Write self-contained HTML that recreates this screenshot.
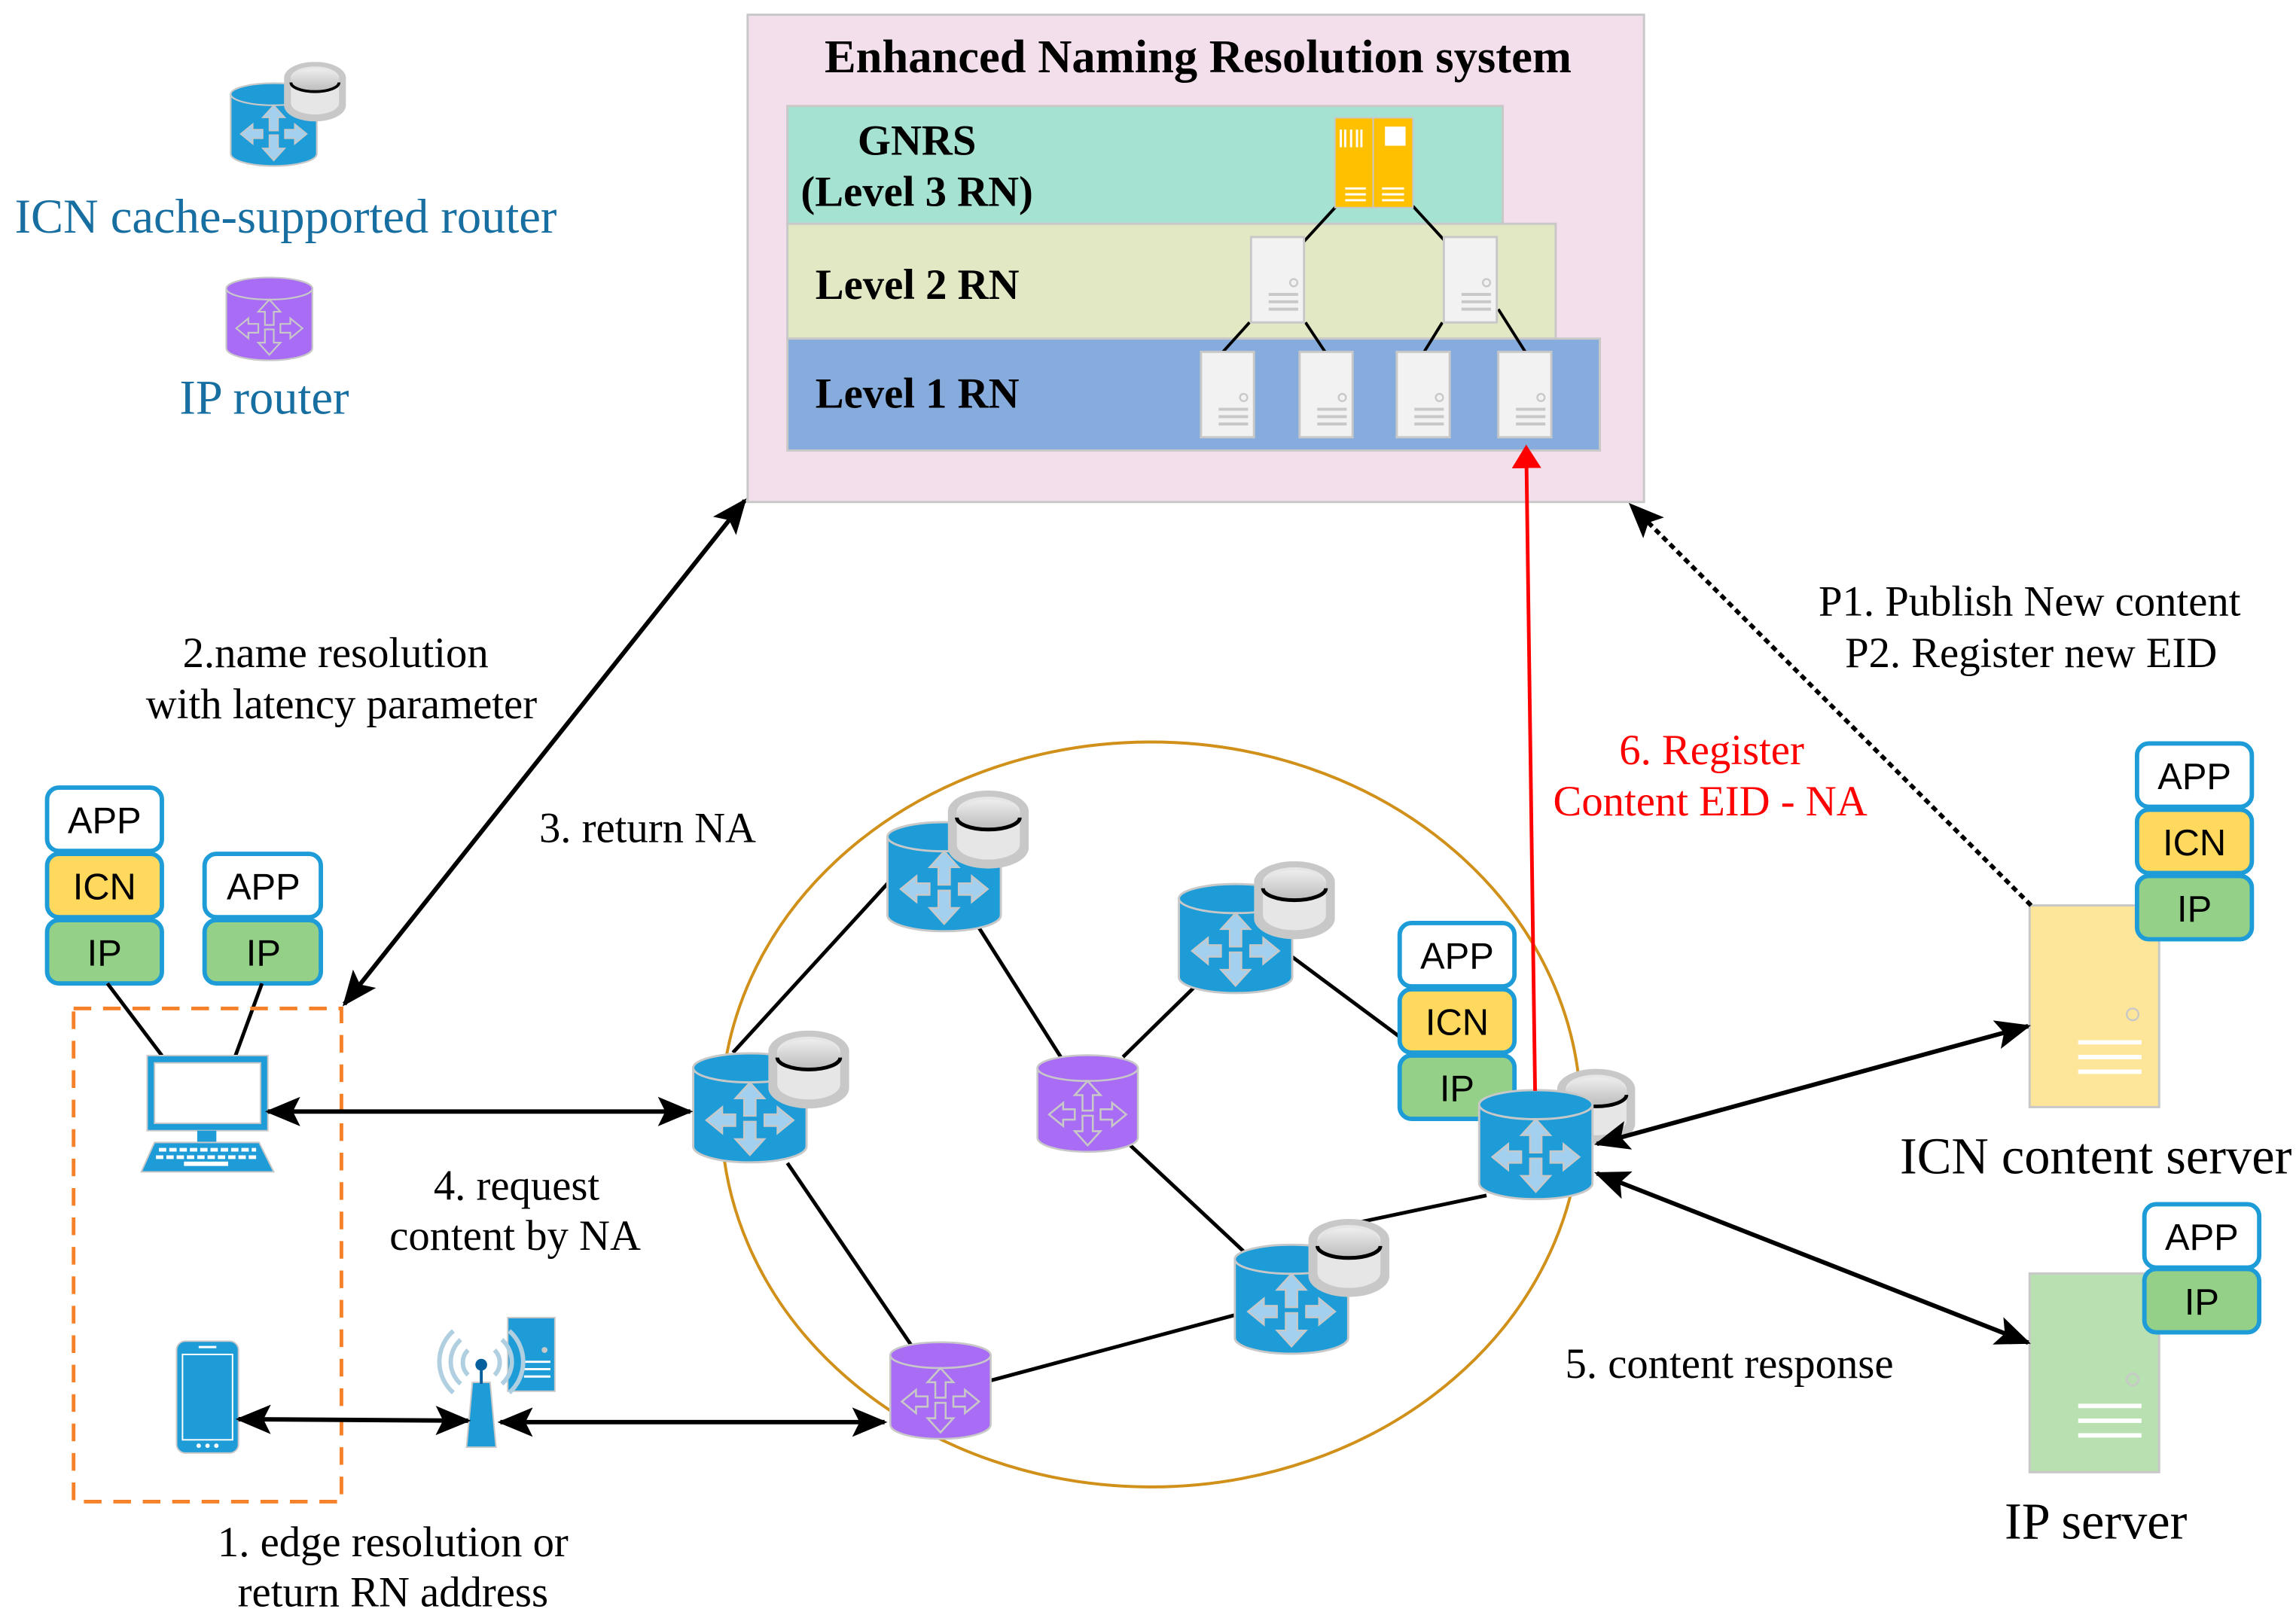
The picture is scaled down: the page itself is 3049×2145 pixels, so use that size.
<!DOCTYPE html>
<html><head><meta charset="utf-8"><style>
html,body{margin:0;padding:0;background:#fff;}
svg{display:block;}
.s{font-family:"Liberation Serif",serif;}
.a{font-family:"Liberation Sans",sans-serif;font-size:25px;}
</style></head><body>
<svg width="3049" height="2145" viewBox="0 0 1560 1097" preserveAspectRatio="none" xmlns="http://www.w3.org/2000/svg">
<defs>
<marker id="ah" viewBox="0 0 24 20" refX="22" refY="10" markerWidth="24" markerHeight="20" markerUnits="userSpaceOnUse" orient="auto-start-reverse">
<path d="M0,0 L24,10 L0,20 L5,10 Z" fill="#000"/></marker>
<marker id="ahr" viewBox="0 0 16 20" refX="14" refY="10" markerWidth="16" markerHeight="20" markerUnits="userSpaceOnUse" orient="auto">
<path d="M0,0 L16,10 L0,20 Z" fill="#f00"/></marker>
<g id="arrows">
<path d="M40,22 l-10,11 h6 v12 h8 v-12 h6 z M40,72 l-10,-11 h6 v-12 h8 v12 h6 z M10,48 l11,-9 v5 h9 v8 h-9 v5 z M70,48 l-11,-9 v5 h-9 v8 h9 v5 z" fill="#a3d0ee" stroke="#c8c8c8" stroke-width="1.2"/>
</g>
<symbol id="rb" viewBox="0 0 80 80">
<path d="M1,12 V66 A39,11 0 0 0 79,66 V12 Z" fill="#1e9cd7" stroke="#c8c8c8" stroke-width="1.5"/>
<ellipse cx="40" cy="12" rx="39" ry="10" fill="#1e9cd7" stroke="#c8c8c8" stroke-width="1.5"/>
<use href="#arrows"/>
</symbol>
<symbol id="rp" viewBox="0 0 80 80">
<path d="M1,12 V66 A39,11 0 0 0 79,66 V12 Z" fill="#a86cf5" stroke="#c8c8c8" stroke-width="1.5"/>
<ellipse cx="40" cy="12" rx="39" ry="10" fill="#a86cf5" stroke="#c8c8c8" stroke-width="1.5"/>
<path d="M40,22 l-10,11 h6 v12 h8 v-12 h6 z M40,72 l-10,-11 h6 v-12 h8 v12 h6 z M10,48 l11,-9 v5 h9 v8 h-9 v5 z M70,48 l-11,-9 v5 h-9 v8 h9 v5 z" fill="none" stroke="#c8c8c8" stroke-width="1.5"/>
</symbol>
<linearGradient id="dg" x1="0" y1="0" x2="0" y2="1"><stop offset="0" stop-color="#eee"/><stop offset="1" stop-color="#bbb"/></linearGradient>
<symbol id="disk" viewBox="0 0 54 54">
<path d="M0,14 A27,14 0 0 1 54,14 V38 A27,14 0 0 1 0,38 Z" fill="#c8c8c8"/>
<path d="M6,14 A21,10 0 0 1 48,14 V36 A21,10 0 0 1 6,36 Z" fill="#e6e6e6"/>
<ellipse cx="27" cy="16" rx="21" ry="10" fill="url(#dg)"/>
<path d="M6,18 A21,8 0 0 0 48,18" fill="none" stroke="#000" stroke-width="2.5"/>
</symbol>
<symbol id="srv" viewBox="0 0 38 60">
<rect x="1" y="1" width="36" height="58" fill="#f2f2f2" stroke="#c8c8c8" stroke-width="1.5"/>
<circle cx="30" cy="32" r="2.5" fill="none" stroke="#c8c8c8" stroke-width="1.2"/>
<path d="M13,40 h20 M13,45 h20 M13,50 h20" stroke="#c8c8c8" stroke-width="2"/>
</symbol>
</defs>

<rect x="508" y="10" width="609" height="331" fill="#f2dfeb" stroke="#c8c8c8" stroke-width="1.5"/>
<text x="814" y="49" text-anchor="middle" class="s" font-size="32" font-weight="bold">Enhanced Naming Resolution system</text>
<rect x="535" y="72" width="486" height="80" fill="#a6e2d2" stroke="#c8c8c8" stroke-width="1.5"/>
<rect x="535" y="152" width="522" height="78" fill="#e2e8c4" stroke="#c8c8c8" stroke-width="1.5"/>
<rect x="535" y="230" width="552" height="76" fill="#85acdd" stroke="#c8c8c8" stroke-width="1.5"/>
<text x="623" y="105" text-anchor="middle" class="s" font-size="29" font-weight="bold">GNRS</text>
<text x="623" y="140" text-anchor="middle" class="s" font-size="29" font-weight="bold">(Level 3 RN)</text>
<text x="554" y="203" class="s" font-size="29" font-weight="bold">Level 2 RN</text>
<text x="554" y="277" class="s" font-size="29" font-weight="bold">Level 1 RN</text>
<g stroke="#000" stroke-width="2">
<line x1="908" y1="140" x2="886" y2="164"/><line x1="960" y1="140" x2="982" y2="164"/>
<line x1="849" y1="219" x2="830" y2="240"/><line x1="887" y1="219" x2="901" y2="240"/>
<line x1="980" y1="219" x2="967" y2="240"/><line x1="1018" y1="210" x2="1037" y2="240"/>
</g>
<g>
<rect x="907" y="80" width="26" height="61" fill="#ffc000" stroke="#c8c8c8" stroke-width="1"/>
<rect x="933" y="80" width="27" height="61" fill="#ffc000" stroke="#c8c8c8" stroke-width="1"/>
<path d="M911,88 v12 M914,88 v12 M918,88 v12 M922,88 v12 M925,88 v12" stroke="#fff" stroke-width="1.5"/>
<rect x="941" y="86" width="14" height="13" fill="#fff"/>
<path d="M914,128 h14 M914,132 h14 M914,136 h14 M939,128 h15 M939,132 h15 M939,136 h15" stroke="#fff" stroke-width="1.5"/>
</g>
<use href="#srv" x="849" y="160" width="38" height="60"/>
<use href="#srv" x="980" y="160" width="38" height="60"/>
<use href="#srv" x="815" y="238" width="38" height="60"/>
<use href="#srv" x="882" y="238" width="38" height="60"/>
<use href="#srv" x="948" y="238" width="38" height="60"/>
<use href="#srv" x="1017" y="238" width="38" height="60"/>

<use href="#rb" x="152" y="55" width="68" height="60"/>
<use href="#disk" x="192" y="42" width="44" height="42"/>
<text x="10" y="158" class="s" font-size="33" fill="#176ea0">ICN cache-supported router</text>
<use href="#rp" x="152" y="187" width="62" height="60"/>
<text x="122" y="281" class="s" font-size="33" fill="#176ea0">IP router</text>

<ellipse cx="782" cy="757" rx="292" ry="253" fill="none" stroke="#d0901a" stroke-width="2"/>

<g stroke="#000" stroke-width="2.5">
<line x1="498" y1="715" x2="605" y2="598"/>
<line x1="665" y1="630" x2="722" y2="720"/>
<line x1="763" y1="718" x2="812" y2="670"/>
<line x1="878" y1="650" x2="952" y2="705"/>
<line x1="535" y1="790" x2="620" y2="915"/>
<line x1="672" y1="938" x2="840" y2="893"/>
<line x1="768" y1="778" x2="845" y2="850"/>
<line x1="915" y1="832" x2="1010" y2="812"/>
</g>

<use href="#rb" x="470" y="713" width="79" height="80"/>
<use href="#disk" x="522" y="700" width="55" height="55"/>
<use href="#rb" x="602" y="556" width="79" height="80"/>
<use href="#disk" x="644" y="537" width="55" height="55"/>
<use href="#rb" x="800" y="598" width="79" height="80"/>
<use href="#disk" x="852" y="585" width="55" height="55"/>
<use href="#rb" x="838" y="843" width="79" height="80"/>
<use href="#disk" x="889" y="828" width="55" height="55"/>
<use href="#rp" x="704" y="715" width="70" height="70"/>
<use href="#rp" x="604" y="910" width="70" height="70"/>

<g class="a" text-anchor="middle">
<rect x="951" y="627" width="78" height="43" rx="8" fill="#fff" stroke="#1e9cd7" stroke-width="3"/>
<rect x="951" y="672" width="78" height="43" rx="8" fill="#ffd95e" stroke="#1e9cd7" stroke-width="3"/>
<rect x="951" y="717" width="78" height="43" rx="8" fill="#95d088" stroke="#1e9cd7" stroke-width="3"/>
<text x="990" y="658">APP</text><text x="990" y="703">ICN</text><text x="990" y="748">IP</text>
</g>
<use href="#disk" x="1058" y="725" width="53" height="55"/>
<use href="#rb" x="1004" y="738" width="79" height="80"/>

<line x1="1043" y1="741" x2="1037" y2="304" stroke="#f00" stroke-width="2.5" marker-end="url(#ahr)"/>

<g class="a" text-anchor="middle">
<rect x="32" y="535" width="78" height="43" rx="8" fill="#fff" stroke="#1e9cd7" stroke-width="3"/>
<rect x="32" y="580" width="78" height="43" rx="8" fill="#ffd95e" stroke="#1e9cd7" stroke-width="3"/>
<rect x="32" y="625" width="78" height="43" rx="8" fill="#95d088" stroke="#1e9cd7" stroke-width="3"/>
<text x="71" y="566">APP</text><text x="71" y="611">ICN</text><text x="71" y="656">IP</text>
<rect x="139" y="580" width="79" height="43" rx="8" fill="#fff" stroke="#1e9cd7" stroke-width="3"/>
<rect x="139" y="625" width="79" height="43" rx="8" fill="#95d088" stroke="#1e9cd7" stroke-width="3"/>
<text x="179" y="611">APP</text><text x="179" y="656">IP</text>
</g>
<g stroke="#000" stroke-width="2.5"><line x1="73" y1="668" x2="110" y2="717"/><line x1="178" y1="668" x2="160" y2="717"/></g>

<rect x="50" y="685" width="182" height="335" fill="none" stroke="#f5822a" stroke-width="2.5" stroke-dasharray="12,8"/>

<rect x="100" y="717" width="82" height="51" fill="#1e9cd7" stroke="#c8c8c8" stroke-width="1"/>
<rect x="105" y="722" width="72" height="41" fill="#fff" stroke="#c8c8c8" stroke-width="1"/>
<rect x="134" y="768" width="13" height="8" fill="#1e9cd7"/>
<path d="M105,776 H176 L186,796 H96 Z" fill="#1e9cd7" stroke="#c8c8c8" stroke-width="1"/>
<path d="M108,781 h66 M106,786 h70" stroke="#fff" stroke-width="2.5" stroke-dasharray="5,2"/>
<rect x="125" y="789" width="30" height="3" fill="#fff"/>

<rect x="120" y="911" width="42" height="76" rx="6" fill="#1e9cd7" stroke="#c8c8c8" stroke-width="1"/>
<rect x="124" y="920" width="34" height="58" fill="#1e9cd7" stroke="#fff" stroke-width="1"/>
<line x1="135" y1="915" x2="147" y2="915" stroke="#fff" stroke-width="1.5"/>
<circle cx="135" cy="982" r="1.5" fill="#fff"/><circle cx="141" cy="982" r="1.5" fill="#fff"/><circle cx="147" cy="982" r="1.5" fill="#fff"/>

<rect x="345" y="895" width="32" height="50" fill="#1e9cd7" stroke="#c8c8c8" stroke-width="1"/>
<circle cx="370" cy="917" r="2" fill="#c8c8c8"/>
<path d="M356,925 h18 M356,930 h18 M356,935 h18" stroke="#fff" stroke-width="1.5"/>
<path d="M321,939 L333,939 L337,983 L317,983 Z" fill="#1e9cd7" stroke="#c8c8c8" stroke-width="1"/>
<line x1="327" y1="928" x2="327" y2="940" stroke="#06609e" stroke-width="2"/>
<circle cx="327" cy="927" r="4" fill="#06609e"/>
<g fill="none" stroke="#b0cfe0" stroke-width="3">
<path d="M318,917 a12,12 0 0 0 0,17 M336,917 a12,12 0 0 1 0,17"/>
<path d="M313,910 a20,20 0 0 0 0,30 M341,910 a20,20 0 0 1 0,30"/>
<path d="M308,904 a28,28 0 0 0 0,42 M346,904 a28,28 0 0 1 0,42"/>
</g>

<rect x="1379" y="615" width="88" height="137" fill="#fde69a" stroke="#c8c8c8" stroke-width="1.5"/>
<circle cx="1449" cy="689" r="4" fill="none" stroke="#c8c8c8" stroke-width="1.2"/>
<path d="M1412,708 h43 M1412,718 h43 M1412,728 h43" stroke="#fff" stroke-width="3"/>
<rect x="1379" y="865" width="88" height="135" fill="#b8e0b0" stroke="#c8c8c8" stroke-width="1.5"/>
<circle cx="1449" cy="937" r="4" fill="none" stroke="#c8c8c8" stroke-width="1.2"/>
<path d="M1412,955 h43 M1412,965 h43 M1412,975 h43" stroke="#fff" stroke-width="3"/>
<g class="a" text-anchor="middle">
<rect x="1452" y="505" width="78" height="43" rx="8" fill="#fff" stroke="#1e9cd7" stroke-width="3"/>
<rect x="1452" y="550" width="78" height="43" rx="8" fill="#ffd95e" stroke="#1e9cd7" stroke-width="3"/>
<rect x="1452" y="595" width="78" height="43" rx="8" fill="#95d088" stroke="#1e9cd7" stroke-width="3"/>
<text x="1491" y="536">APP</text><text x="1491" y="581">ICN</text><text x="1491" y="626">IP</text>
<rect x="1457" y="818" width="78" height="43" rx="8" fill="#fff" stroke="#1e9cd7" stroke-width="3"/>
<rect x="1457" y="862" width="78" height="43" rx="8" fill="#95d088" stroke="#1e9cd7" stroke-width="3"/>
<text x="1496" y="849">APP</text><text x="1496" y="893">IP</text>
</g>

<g stroke="#000" stroke-width="3" fill="none">
<line x1="234" y1="682" x2="506" y2="340" marker-start="url(#ah)" marker-end="url(#ah)"/>
<line x1="182" y1="755" x2="469" y2="755" marker-start="url(#ah)" marker-end="url(#ah)"/>
<line x1="162" y1="964" x2="318" y2="965" marker-start="url(#ah)" marker-end="url(#ah)"/>
<line x1="340" y1="966" x2="601" y2="966" marker-start="url(#ah)" marker-end="url(#ah)"/>
<line x1="1085" y1="777" x2="1378" y2="697" marker-start="url(#ah)" marker-end="url(#ah)"/>
<line x1="1085" y1="797" x2="1378" y2="912" marker-start="url(#ah)" marker-end="url(#ah)"/>
<line x1="1380" y1="615" x2="1108" y2="343" stroke-dasharray="4,3" marker-end="url(#ah)"/>
</g>

<g class="s" font-size="29" text-anchor="middle">
<text x="228" y="453">2.name resolution</text>
<text x="232" y="488">with latency parameter</text>
<text x="440" y="572">3. return NA</text>
<text x="351" y="815">4. request</text>
<text x="350" y="849">content  by  NA</text>
<text x="267" y="1057">1. edge resolution or</text>
<text x="267" y="1091">return RN address</text>
<text x="1379" y="418">P1. Publish New content</text>
<text x="1380" y="453">P2. Register new EID</text>
<text x="1163" y="519" fill="#f00">6. Register</text>
<text x="1162" y="554" fill="#f00">Content EID - NA</text>
<text x="1175" y="936">5. content response</text>
<text x="1424" y="797" font-size="35">ICN content server</text>
<text x="1424" y="1045" font-size="35">IP server</text>
</g>
</svg>
</body></html>
